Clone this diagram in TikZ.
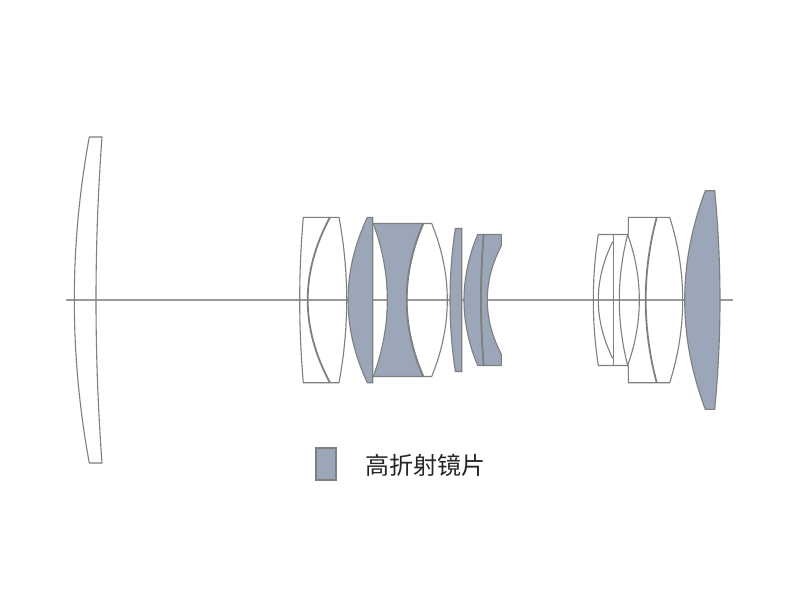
\documentclass[tikz,border=0pt]{standalone}
\usepackage{fontspec}
\newfontfamily\cjk{Noto Sans CJK SC}
\definecolor{lensgrey}{HTML}{9BA6B8}
\definecolor{edgegrey}{HTML}{7F7F7F}
\definecolor{axisgrey}{HTML}{999999}
\tikzset{
  lens/.style={draw=edgegrey,line width=1.1pt,line join=miter},
  glass/.style={lens,fill=lensgrey},
  cement/.style={draw=edgegrey,line width=1.8pt},
}
% surface from (#1,#3) to its mirror image, #2 = x on the axis
\newcommand{\bow}[3]{.. controls ({#1+4/3*(#2-#1)},{#3+(600-2*#3)/3}) and ({#1+4/3*(#2-#1)},{#3+2*(600-2*#3)/3}) .. (#1,{600-#3})}
\begin{document}
\begin{tikzpicture}[x=1pt,y=-1pt]
\useasboundingbox (0,0) rectangle (800,600);
\fill[white] (0,0) rectangle (800,600);
\draw[axisgrey,line width=1.3pt] (66,300) -- (733,300);
% front element
\draw[lens] (89.3,137) \bow{89.3}{74.3}{137} -- (102,463) \bow{102}{96}{463} -- cycle;
% first doublet
\draw[lens] (303.3,217.3) \bow{303.3}{299.7}{217.3} -- (339,382.7) \bow{339}{346.7}{382.7} -- cycle;
\draw[cement] (330,217.3) \bow{330}{307.7}{217.3};
% single
\draw[glass] (367.3,217.3) \bow{367.3}{348}{217.3} -- (372.7,382.7) -- (372.7,217.3) -- cycle;
% second doublet
\draw[lens] (423.3,223.5) -- (431.7,223.5) \bow{431.7}{447.3}{223.5} -- (423.3,376.5);
\draw[glass] (373.3,223.5) \bow{373.3}{387.3}{223.5} -- (423.3,376.5) \bow{423.3}{406.7}{376.5} -- cycle;
\draw[cement] (423.3,223.5) \bow{423.3}{406.7}{223.5};
% thin element
\draw[glass] (455.3,228.5) \bow{455.3}{450}{228.5} -- (461.7,371.5) -- (461.7,228.5) -- cycle;
% third doublet
\draw[glass] (477.7,234.5) \bow{477.7}{464}{234.5} -- (483.7,365.5) \bow{483.7}{481}{365.5} -- cycle;
\draw[glass] (483.7,234.5) -- (501.3,234.5) -- (501.3,245.7) \bow{501.3}{487.3}{245.7} -- (501.3,365.5) -- (483.7,365.5) \bow{483.7}{481}{365.5} -- cycle;
\draw[cement] (483.7,234.5) \bow{483.7}{481}{234.5};
% rear group
\draw[lens] (598.3,234.5) \bow{598.3}{593.3}{234.5} -- (627.7,365.5);
\draw[lens] (598.3,234.5) -- (627.7,234.5) \bow{627.7}{639.3}{234.5} \bow{627.7}{619.3}{365.5};
\draw[lens] (612.7,241.7) \bow{612.7}{598.3}{241.7};
\draw[lens] (613.3,234.5) -- (613.3,365.5);
\draw[lens] (628.3,234.5) -- (628.3,217.3) -- (669.7,217.3) \bow{669.7}{682.7}{217.3} -- (628.3,382.7) -- (628.3,365.5);
\draw[cement] (656.7,217.3) \bow{656.7}{645.7}{217.3};
% last element
\draw[glass] (705.3,190.7) \bow{705.3}{684.7}{190.7} -- (714.7,409.3) \bow{714.7}{720}{409.3} -- cycle;
% legend
\node (swatch) [draw=edgegrey,line width=2pt,fill=lensgrey,minimum width=20pt,minimum height=32pt,inner sep=0pt] at (326,464) {};
\node (legend) [anchor=west,inner sep=0pt,font=\cjk\fontsize{24}{25}\selectfont,text=black!85] at (365.5,465.5) {高折射镜片};
\end{tikzpicture}
\end{document}
